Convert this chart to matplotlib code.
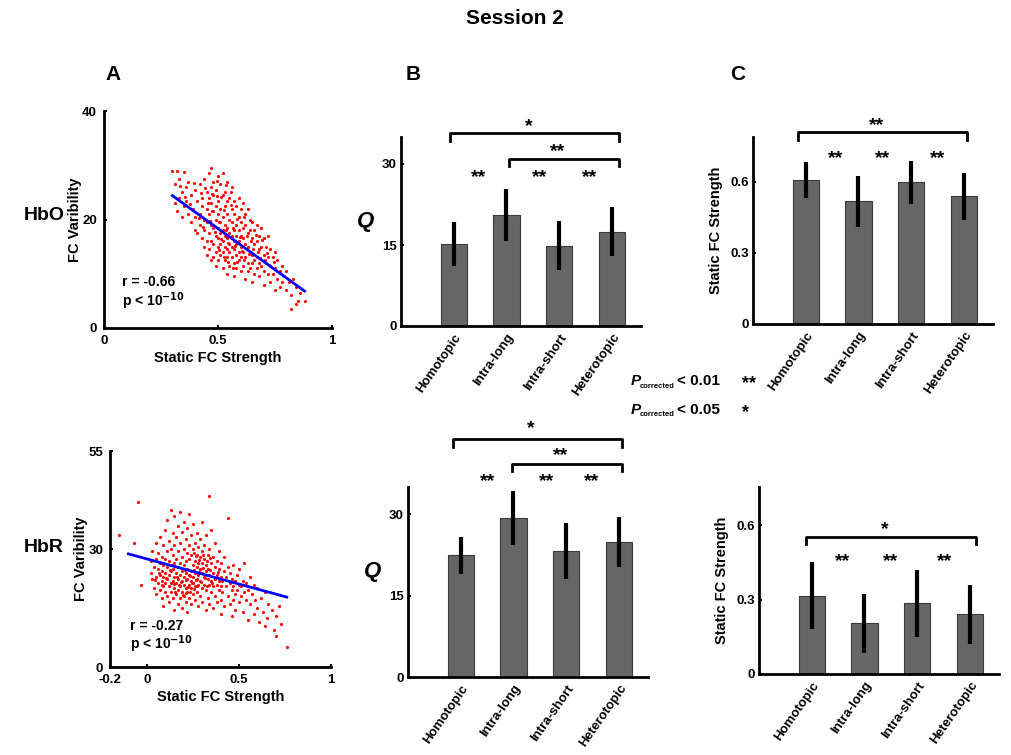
import numpy as np
import matplotlib
matplotlib.use("Agg")
import matplotlib.pyplot as plt

plt.rcParams['font.family'] = ['Liberation Sans', 'DejaVu Sans']
plt.rcParams['font.weight'] = 'bold'

W, H = 1011, 755

# ---- data ----
categories = ["Homotopic", "Intra-long", "Intra-short", "Heterotopic"]

# panel B (Q), HbO / HbR
q_hbo = [15.2, 20.6, 14.9, 17.5]
q_hbo_sd = [4.1, 4.8, 4.6, 4.5]
q_hbr = [22.4, 29.3, 23.2, 24.9]
q_hbr_sd = [3.4, 5.0, 5.2, 4.6]

# panel C (static FC strength), HbO / HbR
fc_hbo = [0.609, 0.519, 0.598, 0.539]
fc_hbo_sd = [0.076, 0.108, 0.090, 0.098]
fc_hbr = [0.316, 0.205, 0.285, 0.241]
fc_hbr_sd = [0.135, 0.120, 0.136, 0.119]

# panel A scatter, HbO (static FC strength, FC variability)
hbo_pts = [
    (0.30, 29.0), (0.32, 29.0), (0.35, 28.7), (0.31, 26.5), (0.33, 27.5), (0.34, 25.0), (0.31, 23.0),
    (0.32, 21.5), (0.33, 24.0), (0.35, 22.5), (0.34, 20.5), (0.36, 26.0), (0.36, 23.5), (0.37, 21.0),
    (0.38, 24.5), (0.38, 19.5), (0.39, 22.0), (0.37, 27.0), (0.40, 25.5), (0.40, 20.5), (0.40, 18.0),
    (0.41, 23.5), (0.41, 17.5), (0.42, 26.5), (0.42, 21.0), (0.42, 19.0), (0.43, 24.0), (0.43, 16.5),
    (0.43, 22.5), (0.44, 27.5), (0.44, 20.0), (0.44, 18.0), (0.44, 15.0), (0.45, 25.0), (0.45, 22.0),
    (0.45, 19.5), (0.45, 16.0), (0.45, 13.5), (0.46, 28.5), (0.46, 24.0), (0.46, 21.0), (0.46, 17.5),
    (0.46, 14.5), (0.47, 29.5), (0.47, 26.0), (0.47, 23.0), (0.47, 19.0), (0.47, 16.0), (0.47, 12.5),
    (0.48, 27.0), (0.48, 24.5), (0.48, 21.5), (0.48, 18.5), (0.48, 15.5), (0.48, 13.0), (0.49, 25.5),
    (0.49, 22.5), (0.49, 20.0), (0.49, 17.0), (0.49, 14.0), (0.49, 11.5), (0.50, 28.0), (0.50, 23.5),
    (0.50, 21.0), (0.50, 18.5), (0.50, 16.5), (0.50, 15.0), (0.50, 12.5), (0.51, 26.5), (0.51, 22.0),
    (0.51, 19.5), (0.51, 17.5), (0.51, 15.5), (0.51, 13.5), (0.52, 28.5), (0.52, 24.5), (0.52, 20.5),
    (0.52, 18.0), (0.52, 16.0), (0.52, 14.0), (0.52, 11.0), (0.53, 25.0), (0.53, 22.5), (0.53, 19.0),
    (0.53, 17.0), (0.53, 15.0), (0.53, 12.5), (0.54, 27.0), (0.54, 23.5), (0.54, 21.0), (0.54, 18.5),
    (0.54, 16.5), (0.54, 14.5), (0.54, 13.0), (0.54, 10.0), (0.55, 24.0), (0.55, 20.0), (0.55, 17.5),
    (0.55, 15.5), (0.55, 14.0), (0.55, 11.5), (0.56, 26.0), (0.56, 22.0), (0.56, 19.5), (0.56, 17.0),
    (0.56, 15.0), (0.56, 13.0), (0.57, 23.5), (0.57, 21.0), (0.57, 18.0), (0.57, 16.0), (0.57, 14.5),
    (0.57, 12.0), (0.57, 9.5), (0.58, 22.5), (0.58, 19.0), (0.58, 17.0), (0.58, 15.5), (0.58, 13.5),
    (0.58, 11.0), (0.59, 24.0), (0.59, 20.5), (0.59, 18.0), (0.59, 16.0), (0.59, 14.0), (0.59, 12.5),
    (0.60, 22.0), (0.60, 19.5), (0.60, 17.0), (0.60, 15.0), (0.60, 13.0), (0.60, 10.5), (0.61, 23.0),
    (0.61, 18.5), (0.61, 16.5), (0.61, 14.0), (0.61, 11.5), (0.62, 21.0), (0.62, 19.0), (0.62, 15.5),
    (0.62, 13.0), (0.62, 9.0), (0.63, 22.0), (0.63, 17.5), (0.63, 15.0), (0.63, 12.0), (0.63, 10.5),
    (0.64, 20.0), (0.64, 18.0), (0.64, 14.0), (0.64, 11.0), (0.65, 19.5), (0.65, 16.5), (0.65, 13.5),
    (0.65, 12.0), (0.65, 8.5), (0.66, 18.0), (0.66, 15.5), (0.66, 12.5), (0.66, 10.0), (0.67, 19.0),
    (0.67, 16.0), (0.67, 13.0), (0.67, 11.0), (0.68, 17.0), (0.68, 14.5), (0.68, 12.0), (0.68, 9.5),
    (0.69, 18.5), (0.69, 15.0), (0.69, 11.5), (0.70, 16.5), (0.70, 13.5), (0.70, 10.5), (0.70, 8.0),
    (0.71, 15.0), (0.71, 12.0), (0.72, 17.0), (0.72, 13.0), (0.72, 10.0), (0.73, 14.5), (0.73, 11.5),
    (0.73, 8.5), (0.74, 13.0), (0.74, 10.0), (0.75, 14.0), (0.75, 11.0), (0.75, 7.0), (0.76, 12.5),
    (0.76, 9.0), (0.77, 10.5), (0.77, 7.5), (0.78, 11.5), (0.78, 8.5), (0.79, 9.5), (0.80, 10.5),
    (0.80, 7.0), (0.81, 8.5), (0.82, 6.0), (0.82, 3.5), (0.83, 9.0), (0.84, 7.5), (0.85, 5.0),
    (0.86, 6.5), (0.88, 5.0), (0.84, 4.5),
    (0.335, 26.2), (0.355, 24.1), (0.375, 22.8), (0.395, 26.8), (0.415, 20.2), (0.425, 24.9),
    (0.435, 18.7), (0.455, 23.1), (0.465, 19.8), (0.475, 21.6), (0.485, 17.7), (0.495, 24.3),
    (0.505, 19.6), (0.515, 16.4), (0.525, 21.7), (0.535, 18.1), (0.545, 15.6), (0.555, 22.6),
    (0.565, 18.4), (0.575, 15.2), (0.585, 20.1), (0.595, 16.8), (0.605, 14.2), (0.615, 20.4),
    (0.625, 16.9), (0.635, 13.7), (0.645, 16.1), (0.655, 14.6), (0.665, 17.2), (0.675, 14.1),
    (0.685, 12.9), (0.695, 16.2), (0.705, 12.6), (0.715, 13.8), (0.725, 11.7), (0.745, 12.1),
    (0.505, 14.3), (0.525, 13.1), (0.545, 12.2), (0.565, 11.1), (0.585, 12.1), (0.615, 12.6),
    (0.475, 24.7), (0.495, 27.1), (0.515, 24.2), (0.535, 26.3), (0.555, 25.1), (0.445, 25.8),
]
hbo_fit_x = [0.30, 0.88]
hbo_fit_y = [24.4, 6.8]

# panel A scatter, HbR
hbr_pts = [
    (-0.15, 33.5), (-0.05, 42.0), (-0.07, 31.5), (-0.03, 21.0), (0.02, 27.0), (0.02, 24.0), (0.03, 22.5),
    (0.03, 29.5), (0.04, 25.5), (0.04, 20.0), (0.05, 23.0), (0.05, 27.5), (0.05, 18.5), (0.05, 31.5),
    (0.06, 25.0), (0.06, 21.5), (0.06, 29.0), (0.07, 23.5), (0.07, 26.5), (0.07, 19.5), (0.07, 33.0),
    (0.08, 22.0), (0.08, 24.5), (0.08, 28.0), (0.08, 17.5), (0.09, 20.5), (0.09, 26.0), (0.09, 23.0),
    (0.09, 31.0), (0.09, 15.5), (0.10, 24.0), (0.10, 21.5), (0.10, 27.5), (0.10, 19.0), (0.10, 35.0),
    (0.11, 22.5), (0.11, 25.5), (0.11, 29.5), (0.11, 18.0), (0.11, 37.5), (0.12, 23.5), (0.12, 20.5),
    (0.12, 27.0), (0.12, 32.0), (0.12, 16.5), (0.13, 24.5), (0.13, 21.5), (0.13, 26.0), (0.13, 30.0),
    (0.13, 19.0), (0.13, 40.0), (0.14, 22.0), (0.14, 25.0), (0.14, 28.5), (0.14, 34.0), (0.14, 17.5),
    (0.15, 23.0), (0.15, 20.0), (0.15, 26.5), (0.15, 31.0), (0.15, 38.5), (0.15, 14.5), (0.16, 24.0),
    (0.16, 21.5), (0.16, 27.5), (0.16, 18.5), (0.16, 33.0), (0.17, 22.5), (0.17, 25.5), (0.17, 29.5),
    (0.17, 19.5), (0.17, 36.0), (0.17, 16.0), (0.18, 23.5), (0.18, 20.5), (0.18, 26.5), (0.18, 31.5),
    (0.18, 17.5), (0.18, 39.5), (0.19, 22.0), (0.19, 24.5), (0.19, 28.0), (0.19, 19.0), (0.19, 34.5),
    (0.19, 15.0), (0.20, 23.0), (0.20, 21.0), (0.20, 26.0), (0.20, 30.0), (0.20, 18.0), (0.20, 37.0),
    (0.21, 24.0), (0.21, 20.0), (0.21, 27.0), (0.21, 32.5), (0.21, 16.5), (0.22, 22.5), (0.22, 25.0),
    (0.22, 19.0), (0.22, 29.0), (0.22, 35.5), (0.22, 14.0), (0.23, 23.5), (0.23, 21.0), (0.23, 27.5),
    (0.23, 31.0), (0.23, 17.5), (0.23, 39.0), (0.24, 22.0), (0.24, 24.5), (0.24, 20.0), (0.24, 28.5),
    (0.24, 33.5), (0.24, 16.0), (0.25, 23.0), (0.25, 26.0), (0.25, 18.5), (0.25, 30.0), (0.25, 21.5),
    (0.25, 36.5), (0.26, 24.0), (0.26, 27.0), (0.26, 20.5), (0.26, 31.5), (0.26, 17.0), (0.27, 22.5),
    (0.27, 25.5), (0.27, 28.5), (0.27, 19.0), (0.27, 34.0), (0.28, 23.5), (0.28, 26.5), (0.28, 21.0),
    (0.28, 30.5), (0.28, 15.5), (0.29, 22.0), (0.29, 25.0), (0.29, 28.0), (0.29, 18.0), (0.29, 32.5),
    (0.30, 24.0), (0.30, 26.5), (0.30, 20.0), (0.30, 29.5), (0.30, 16.5), (0.30, 37.0), (0.31, 23.0),
    (0.31, 27.5), (0.31, 21.0), (0.31, 31.0), (0.32, 24.5), (0.32, 19.5), (0.32, 26.0), (0.32, 33.5),
    (0.32, 14.5), (0.33, 22.5), (0.33, 28.5), (0.33, 17.5), (0.33, 25.0), (0.34, 21.0), (0.34, 43.5),
    (0.34, 23.5), (0.34, 30.0), (0.34, 16.0), (0.35, 26.5), (0.35, 19.0), (0.35, 22.0), (0.35, 35.0),
    (0.36, 24.0), (0.36, 20.5), (0.36, 28.0), (0.36, 15.0), (0.37, 22.5), (0.37, 25.5), (0.37, 18.0),
    (0.37, 31.5), (0.38, 21.0), (0.38, 23.5), (0.38, 27.0), (0.38, 16.5), (0.39, 19.5), (0.39, 25.0),
    (0.39, 22.0), (0.39, 29.5), (0.40, 20.5), (0.40, 23.0), (0.40, 17.0), (0.40, 26.5), (0.40, 13.5),
    (0.41, 22.0), (0.41, 19.0), (0.42, 24.5), (0.42, 15.5), (0.42, 28.0), (0.43, 20.5), (0.43, 23.0),
    (0.44, 18.0), (0.44, 25.5), (0.44, 38.0), (0.45, 21.5), (0.45, 16.0), (0.45, 24.0), (0.46, 19.5),
    (0.46, 22.5), (0.46, 13.0), (0.47, 20.5), (0.47, 26.0), (0.47, 17.0), (0.48, 22.0), (0.48, 18.5),
    (0.48, 14.5), (0.49, 23.5), (0.49, 19.5), (0.50, 21.0), (0.50, 16.5), (0.50, 25.0), (0.51, 18.0),
    (0.51, 20.5), (0.52, 22.0), (0.52, 14.0), (0.53, 19.0), (0.53, 26.5), (0.54, 17.0), (0.54, 21.5),
    (0.55, 12.0), (0.55, 19.5), (0.56, 23.0), (0.56, 16.0), (0.57, 18.5), (0.58, 13.5), (0.58, 21.0),
    (0.59, 17.0), (0.60, 15.0), (0.60, 20.0), (0.61, 11.5), (0.62, 17.5), (0.63, 14.0), (0.64, 19.0),
    (0.65, 12.5), (0.66, 16.0), (0.68, 14.5), (0.69, 9.5), (0.70, 13.0), (0.72, 15.5), (0.73, 11.0),
    (0.76, 5.0), (0.70, 8.0), (0.64, 10.5),
    (0.045, 22.1), (0.065, 23.9), (0.085, 20.9), (0.105, 22.7), (0.125, 24.8), (0.145, 21.2),
    (0.165, 22.9), (0.185, 21.7), (0.205, 24.6), (0.215, 22.2), (0.225, 20.4), (0.235, 23.2),
    (0.245, 21.3), (0.255, 24.7), (0.265, 22.1), (0.275, 20.6), (0.285, 24.2), (0.295, 21.6),
    (0.305, 25.3), (0.315, 22.6), (0.325, 20.7), (0.345, 24.8), (0.355, 21.4), (0.385, 24.3),
    (0.195, 18.4), (0.215, 18.9), (0.235, 19.1), (0.255, 19.8), (0.175, 20.9), (0.155, 19.2),
    (0.265, 28.2), (0.285, 27.3), (0.305, 28.4), (0.325, 26.9), (0.255, 29.1), (0.345, 27.7),
]
hbr_fit_x = [-0.10, 0.76]
hbr_fit_y = [28.8, 17.8]

# significance brackets: (x_left, x_right, y, tick_drop, label, label_y)
sig_b_hbo = [(0.93, 4.14, 35.7, 1.5, "*", 37.0), (2.05, 4.14, 30.9, 1.3, "**", 32.3)]
sig_b_hbr = [(0.85, 4.05, 43.9, 1.5, "*", 45.7), (1.97, 4.05, 39.2, 1.3, "**", 40.7)]
sig_c_hbo = [(0.85, 4.06, 0.812, 0.033, "**", 0.838)]
sig_c_hbr = [(0.90, 4.12, 0.554, 0.030, "*", 0.585)]
# pairwise stars between neighbouring bars: (x, y)
pair_b_hbo = [(1.48, 27.4), (2.62, 27.4), (3.57, 27.4)]
pair_b_hbr = [(1.51, 36.0), (2.63, 36.0), (3.49, 36.0)]
pair_c_hbo = [(1.56, 0.700), (2.46, 0.700), (3.50, 0.700)]
pair_c_hbr = [(1.58, 0.452), (2.50, 0.452), (3.52, 0.452)]

fig = plt.figure(figsize=(W / 100, H / 100), dpi=100)


def px_axes(left, right, top, bottom):
    return fig.add_axes([left / W, 1 - bottom / H, (right - left) / W, (bottom - top) / H])


def style(ax):
    for s in ["top", "right"]:
        ax.spines[s].set_visible(False)
    for s in ["left", "bottom"]:
        ax.spines[s].set_linewidth(2)
    ax.tick_params(direction="in", length=2, width=1.5, labelsize=9.5, pad=5)
    for lab in ax.get_xticklabels() + ax.get_yticklabels():
        lab.set_fontweight("bold")


def scatter_panel(ax, pts, fx, fy, xlim, ylim, xticks, yticks, r_txt, r_pos):
    xs = [p[0] for p in pts]
    ys = [p[1] for p in pts]
    ax.scatter(xs, ys, s=5, marker="o", color="red", linewidths=0, zorder=2)
    ax.plot(fx, fy, color="blue", lw=2, zorder=3)
    ax.set_xlim(*xlim)
    ax.set_ylim(*ylim)
    ax.set_xticks(xticks)
    ax.set_xticklabels([("%g" % t) for t in xticks])
    ax.set_yticks(yticks)
    style(ax)
    ax.set_xlabel("Static FC Strength", fontsize=10.5, fontweight="bold", labelpad=3)
    ax.set_ylabel("FC Varibility", fontsize=10.5, fontweight="bold", labelpad=0)
    ax.text(r_pos[0], r_pos[1], r_txt, transform=ax.transAxes, fontsize=10, fontweight="bold", va="center")
    ax.text(r_pos[0], r_pos[1] - 0.085, r"p < 10$^{\mathbf{-10}}$", transform=ax.transAxes,
            fontsize=10, fontweight="bold", va="center")


def bar_panel(ax, vals, sds, ylim, yticks, yticklabels, brackets, pairs, ylabel, ylabel_kw):
    x = np.arange(1, len(vals) + 1)
    ax.bar(x, vals, width=0.5, color="#666666", edgecolor="#3a3a3a", linewidth=0.8, zorder=2)
    ax.errorbar(x, vals, yerr=sds, fmt="none", ecolor="black", elinewidth=3, capsize=0, zorder=3)
    ax.set_xlim(0, 4.55)
    ax.set_ylim(*ylim)
    ax.set_yticks(yticks)
    ax.set_yticklabels(yticklabels)
    ax.set_xticks(x)
    ax.set_xticklabels(categories, rotation=55, ha="right", rotation_mode="anchor", fontsize=10.5)
    style(ax)
    ax.tick_params(axis="x", length=0, pad=4)
    ax.tick_params(axis="y", pad=3)
    for x0, x1, y, d, lab, ly in brackets:
        ax.plot([x0, x0, x1, x1], [y - d, y, y, y - d], color="black", lw=2, clip_on=False)
        ax.text((x0 + x1) / 2 - 0.12, ly, lab, ha="center", va="center", fontsize=14, fontweight="bold")
    for px_, py_ in pairs:
        ax.text(px_, py_, "**", ha="center", va="center", fontsize=14, fontweight="bold")
    ax.set_ylabel(ylabel, **ylabel_kw)


# ---- panel A ----
axA1 = px_axes(104, 332, 111, 328)
scatter_panel(axA1, hbo_pts, hbo_fit_x, hbo_fit_y, (0, 1), (0, 40), [0, 0.5, 1], [0, 20, 40],
              "r = -0.66", (0.08, 0.21))
axA2 = px_axes(110, 331, 451, 667)
scatter_panel(axA2, hbr_pts, hbr_fit_x, hbr_fit_y, (-0.2, 1), (0, 55), [-0.2, 0, 0.5, 1], [0, 30, 55],
              "r = -0.27", (0.09, 0.19))

# ---- panel B ----
q_label = dict(fontsize=16, fontweight="bold", style="italic", rotation=0, labelpad=12)
axB1 = px_axes(401, 641, 137, 326)
bar_panel(axB1, q_hbo, q_hbo_sd, (0, 35), [0, 15, 30], ["0", "15", "30"], sig_b_hbo, pair_b_hbo,
          "Q", q_label)
axB2 = px_axes(408, 648, 487, 677)
bar_panel(axB2, q_hbr, q_hbr_sd, (0, 35), [0, 15, 30], ["0", "15", "30"], sig_b_hbr, pair_b_hbr,
          "Q", q_label)

# ---- panel C ----
c_label = dict(fontsize=10.5, fontweight="bold", labelpad=5)
axC1 = px_axes(753, 993, 137, 324)
bar_panel(axC1, fc_hbo, fc_hbo_sd, (0, 0.79), [0, 0.3, 0.6], ["0", "0.3", "0.6"], sig_c_hbo, pair_c_hbo,
          "Static FC Strength", c_label)
axC2 = px_axes(759, 999, 487, 674)
bar_panel(axC2, fc_hbr, fc_hbr_sd, (0, 0.755), [0, 0.3, 0.6], ["0", "0.3", "0.6"], sig_c_hbr, pair_c_hbr,
          "Static FC Strength", c_label)


# ---- figure text ----
def ftxt(x, y, s, **kw):
    fig.text(x / W, 1 - y / H, s, **kw)


ftxt(515, 18, "Session 2", ha="center", va="center", fontsize=15, fontweight="bold")
ftxt(113, 75, "A", ha="center", va="center", fontsize=15, fontweight="bold")
ftxt(413, 75, "B", ha="center", va="center", fontsize=15, fontweight="bold")
ftxt(738, 75, "C", ha="center", va="center", fontsize=15, fontweight="bold")
ftxt(44, 215, "HbO", ha="center", va="center", fontsize=14, fontweight="bold")
ftxt(44, 548, "HbR", ha="center", va="center", fontsize=14, fontweight="bold")

for yy, thr, st in [(381, "< 0.01", "**"), (410, "< 0.05", "*")]:
    ftxt(631, yy, "P", ha="left", va="center", fontsize=11, fontweight="bold", style="italic")
    ftxt(640, yy + 5, "corrected", ha="left", va="center", fontsize=5.5, fontweight="bold")
    ftxt(677, yy, thr, ha="left", va="center", fontsize=11, fontweight="bold")
    ftxt(742, yy + 3, st, ha="left", va="center", fontsize=13, fontweight="bold")

fig.savefig("out.png", dpi=100)
